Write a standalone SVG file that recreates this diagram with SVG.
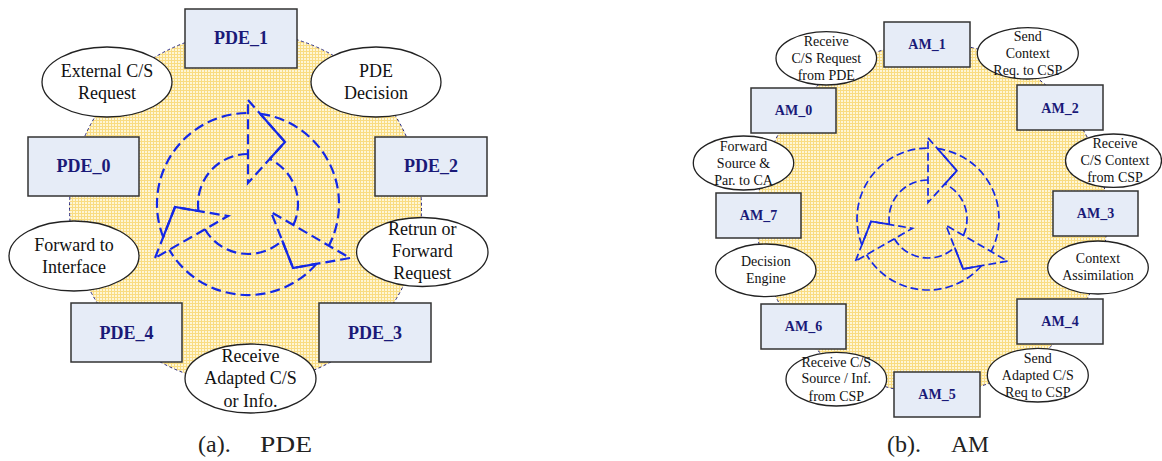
<svg xmlns="http://www.w3.org/2000/svg" xmlns:xlink="http://www.w3.org/1999/xlink" width="1162" height="461" viewBox="0 0 1162 461">
<style>
.ring{fill:url(#grid);stroke:#262680;stroke-width:1;stroke-dasharray:3 2.5}
.box{fill:#e6ecf7;stroke:#333;stroke-width:1.5}
.ell{fill:#fff;stroke:#222;stroke-width:1.3}
text{font-family:"Liberation Serif","Times New Roman","DejaVu Serif",serif}
.lbl{font-weight:bold;fill:#1a1a78;text-anchor:middle}
.t{fill:#111;text-anchor:middle}
.big{font-size:18px}
.sm{font-size:14px}
.cap{font-size:24px;fill:#222}
.dash{fill:none;stroke:#1428e6;stroke-width:2.2;stroke-dasharray:10 5}
.solid{fill:none;stroke:#1428e6;stroke-width:2.2}
</style>
<defs>
<pattern id="grid" width="3" height="3" patternUnits="userSpaceOnUse">
<rect width="3" height="3" fill="#fef6d6"/>
<rect width="3" height="1" fill="#f9dc82"/>
<rect width="1" height="3" fill="#f9dc82"/>
</pattern>
<g id="cycle">
<path class="dash" d="M163.2,237.1 A91 91 0 0 1 248,113"/>
<path class="dash" d="M248,154 A50 50 0 0 0 198.5,211"/>
<path class="dash" d="M248,100 L285,142 L248,183 Z"/>
<path class="dash" d="M260.2,113.8 A91 91 0 0 1 328.9,245.7"/>
<path class="dash" d="M293.4,225 A50 50 0 0 0 269.7,159"/>
<path class="dash" d="M350,258 L293,268 L271,212 Z"/>
<path class="dash" d="M316.5,263.9 A91 91 0 0 1 169.3,249.8"/>
<path class="dash" d="M204.9,229.3 A50 50 0 0 0 282.2,240.5"/>
<path class="dash" d="M155,258 L175,207 L228,216 Z"/>
<path class="solid" d="M260.2,113.8 L285,142 L269.7,159"/>
<path class="solid" d="M316.5,263.9 L293,268 L282.2,240.5"/>
<path class="solid" d="M163.2,237.1 L175,207 L198.5,211"/>
</g>
</defs>
<rect width="1162" height="461" fill="#fff"/>

<!-- Panel (a) PDE -->
<g id="ring-a"><circle class="ring" cx="245.5" cy="208" r="176"/></g>
<g id="connectors-a"><use xlink:href="#cycle" href="#cycle"/></g>
<g id="PDE_1"><rect class="box" x="185" y="9" width="112" height="59"/><text class="lbl big" x="241" y="44">PDE_1</text></g>
<g id="PDE_0"><rect class="box" x="28" y="137" width="111" height="59"/><text class="lbl big" x="83.5" y="172">PDE_0</text></g>
<g id="PDE_2"><rect class="box" x="375" y="137" width="112" height="59"/><text class="lbl big" x="431" y="172">PDE_2</text></g>
<g id="PDE_4"><rect class="box" x="71" y="303" width="111" height="59"/><text class="lbl big" x="126.5" y="339">PDE_4</text></g>
<g id="PDE_3"><rect class="box" x="319" y="303" width="112" height="59"/><text class="lbl big" x="375" y="339">PDE_3</text></g>
<g id="ext-request"><ellipse class="ell" cx="107" cy="82" rx="65" ry="35"/><text class="t big" x="107" y="77">External C/S</text><text class="t big" x="107" y="99">Request</text></g>
<g id="pde-decision"><ellipse class="ell" cx="376" cy="82" rx="65" ry="35"/><text class="t big" x="376" y="77">PDE</text><text class="t big" x="376" y="99">Decision</text></g>
<g id="forward-interface"><ellipse class="ell" cx="74" cy="256" rx="65" ry="35"/><text class="t big" x="74" y="251">Forward to</text><text class="t big" x="74" y="273">Interface</text></g>
<g id="return-forward"><ellipse class="ell" cx="422.3" cy="252" rx="65.7" ry="34.5"/><text class="t big" x="422.3" y="235">Retrun or</text><text class="t big" x="422.3" y="257">Forward</text><text class="t big" x="422.3" y="279">Request</text></g>
<g id="receive-adapted"><ellipse class="ell" cx="250.5" cy="378.5" rx="65.5" ry="34.5"/><text class="t big" x="250.5" y="362">Receive</text><text class="t big" x="250.5" y="384">Adapted C/S</text><text class="t big" x="250.5" y="406.5">or Info.</text></g>
<g id="caption-a"><text class="cap" x="198" y="452">(a).</text><text class="cap" x="260" y="452" textLength="52" lengthAdjust="spacingAndGlyphs">PDE</text></g>

<!-- Panel (b) AM -->
<g id="ring-b"><circle class="ring" cx="932" cy="218" r="175"/></g>
<g id="connectors-b"><use xlink:href="#cycle" href="#cycle" transform="translate(928,219) scale(0.78) translate(-248,-204)"/></g>
<g id="AM_1"><rect class="box" x="884" y="22" width="86" height="45"/><text class="lbl sm" x="927" y="49.3">AM_1</text></g>
<g id="AM_0"><rect class="box" x="751" y="88" width="85" height="45"/><text class="lbl sm" x="793.5" y="115">AM_0</text></g>
<g id="AM_2"><rect class="box" x="1017" y="85" width="86" height="45"/><text class="lbl sm" x="1060" y="112.5">AM_2</text></g>
<g id="AM_7"><rect class="box" x="716" y="193" width="85" height="45"/><text class="lbl sm" x="758.5" y="220">AM_7</text></g>
<g id="AM_3"><rect class="box" x="1053" y="191" width="85" height="45"/><text class="lbl sm" x="1095.5" y="218">AM_3</text></g>
<g id="AM_6"><rect class="box" x="761" y="304" width="85" height="45"/><text class="lbl sm" x="803.5" y="331">AM_6</text></g>
<g id="AM_4"><rect class="box" x="1017" y="299" width="86" height="45"/><text class="lbl sm" x="1060" y="326">AM_4</text></g>
<g id="AM_5"><rect class="box" x="894" y="372" width="86" height="45"/><text class="lbl sm" x="937" y="399.3">AM_5</text></g>
<g id="recv-request"><ellipse class="ell" cx="826.3" cy="58.3" rx="50.3" ry="26.7"/><text class="t sm" x="826.3" y="46">Receive</text><text class="t sm" x="826.3" y="63">C/S Request</text><text class="t sm" x="826.3" y="80">from PDE</text></g>
<g id="send-context"><ellipse class="ell" cx="1027.8" cy="53.3" rx="50.5" ry="25.7"/><text class="t sm" x="1027.8" y="40.7">Send</text><text class="t sm" x="1027.8" y="58">Context</text><text class="t sm" x="1027.8" y="75">Req. to CSP</text></g>
<g id="forward-source"><ellipse class="ell" cx="743.5" cy="163" rx="50.2" ry="27"/><text class="t sm" x="743.5" y="151">Forward</text><text class="t sm" x="743.5" y="167.7">Source &amp;</text><text class="t sm" x="743.5" y="185">Par. to CA</text></g>
<g id="recv-context"><ellipse class="ell" cx="1113.5" cy="160.7" rx="48" ry="26.7"/><text class="t sm" x="1115" y="147.7">Receive</text><text class="t sm" x="1115" y="165">C/S Context</text><text class="t sm" x="1115" y="181.7">from CSP</text></g>
<g id="decision-engine"><ellipse class="ell" cx="765.8" cy="270.3" rx="50.2" ry="26.3"/><text class="t sm" x="765.8" y="265.7">Decision</text><text class="t sm" x="765.8" y="282.7">Engine</text></g>
<g id="context-assim"><ellipse class="ell" cx="1098" cy="267.5" rx="50.3" ry="26.5"/><text class="t sm" x="1098" y="263">Context</text><text class="t sm" x="1098" y="280">Assimilation</text></g>
<g id="recv-source"><ellipse class="ell" cx="836.3" cy="379.2" rx="50.3" ry="26.8"/><text class="t sm" x="836.3" y="366.7">Receive C/S</text><text class="t sm" x="836.3" y="383.3">Source / Inf.</text><text class="t sm" x="836.3" y="400.7">from CSP</text></g>
<g id="send-adapted"><ellipse class="ell" cx="1037.8" cy="375.2" rx="50.5" ry="26.8"/><text class="t sm" x="1037.8" y="362.7">Send</text><text class="t sm" x="1037.8" y="380">Adapted C/S</text><text class="t sm" x="1037.8" y="396.7">Req to CSP</text></g>
<g id="caption-b"><text class="cap" x="887" y="452">(b).</text><text class="cap" x="951" y="452" textLength="38" lengthAdjust="spacingAndGlyphs">AM</text></g>
</svg>
